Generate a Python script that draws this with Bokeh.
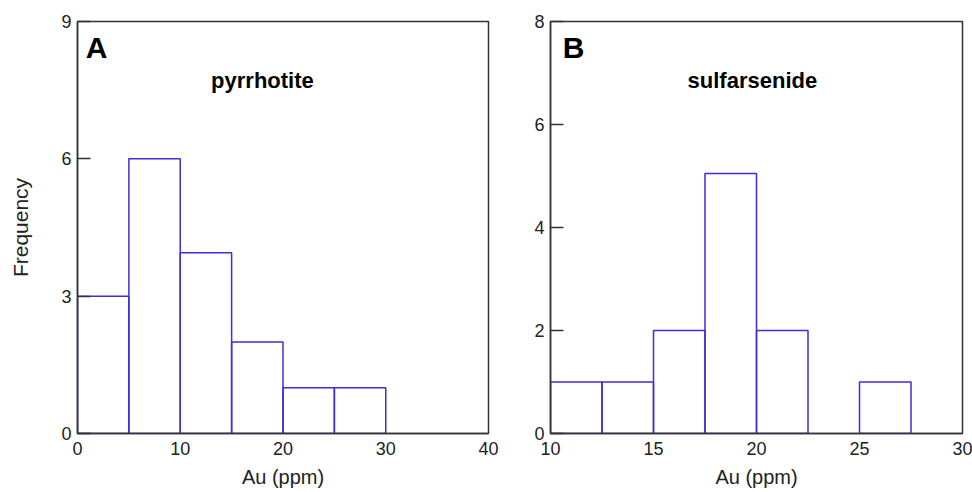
from bokeh.plotting import figure
from bokeh.layouts import row
from bokeh.models import Range1d, FixedTicker, Label, ColumnDataSource
from bokeh.embed import file_html
from bokeh.resources import INLINE

# Panel A: pyrrhotite
a_left = [0, 5, 10, 15, 20, 25, 30, 35]
a_right = [5, 10, 15, 20, 25, 30, 35, 40]
a_count = [3, 6, 3.95, 2, 1, 1, 0, 0]
a_xticks = [0, 10, 20, 30, 40]
a_yticks = [0, 3, 6, 9]

# Panel B: sulfarsenide
b_left = [10, 12.5, 15, 17.5, 20, 22.5, 25, 27.5]
b_right = [12.5, 15, 17.5, 20, 22.5, 25, 27.5, 30]
b_count = [1, 1, 2, 5.05, 2, 0, 1, 0]
b_xticks = [10, 15, 20, 25, 30]
b_yticks = [0, 2, 4, 6, 8]

FONT = "Liberation Sans"
TXT = "#222222"
FRAME = "#333333"
BLUE = "#3c2fd8"


def make_panel(left, right, count, xr, yr, xticks, yticks, letter, name,
               letter_pos, name_pos, ylabel, width, border_left, border_right):
    p = figure(width=width, height=492, output_backend="svg", toolbar_location=None,
               x_range=Range1d(*xr), y_range=Range1d(*yr),
               min_border_left=border_left, min_border_right=border_right,
               min_border_top=21, min_border_bottom=59)
    p.grid.visible = False
    p.outline_line_color = FRAME
    p.outline_line_width = 1.5
    p.background_fill_color = "white"
    p.border_fill_color = "white"

    keep = [i for i, c in enumerate(count) if c > 0]
    src = ColumnDataSource(dict(left=[left[i] for i in keep],
                                right=[right[i] for i in keep],
                                top=[count[i] for i in keep],
                                bottom=[0] * len(keep)))
    p.quad(left="left", right="right", top="top", bottom="bottom", source=src,
           fill_color=None, line_color=BLUE, line_width=1.5)

    for ax in (p.xaxis[0], p.yaxis[0]):
        ax.axis_line_color = FRAME
        ax.axis_line_width = 1.5
        ax.major_tick_line_color = FRAME
        ax.major_tick_line_width = 1.5
        ax.minor_tick_line_color = None
        ax.major_label_text_font = FONT
        ax.major_label_text_font_size = "18px"
        ax.major_label_text_color = TXT
        ax.axis_label_text_font = FONT
        ax.axis_label_text_font_style = "normal"
        ax.axis_label_text_color = TXT

    p.xaxis.ticker = FixedTicker(ticks=xticks)
    p.xaxis.major_tick_in = 0
    p.xaxis.major_tick_out = 0
    p.xaxis.major_label_standoff = 8
    p.xaxis.axis_label = "Au (ppm)"
    p.xaxis.axis_label_text_font_size = "20px"
    p.xaxis.axis_label_standoff = 8

    p.yaxis.ticker = FixedTicker(ticks=yticks)
    p.yaxis.major_tick_in = 13
    p.yaxis.major_tick_out = 0
    p.yaxis.major_label_standoff = 6
    if ylabel:
        p.yaxis.axis_label = ylabel
        p.yaxis.axis_label_text_font_size = "21px"
        p.yaxis.axis_label_standoff = 26

    p.add_layout(Label(x=letter_pos[0], y=letter_pos[1], text=letter,
                       text_font=FONT, text_font_size="30px", text_font_style="bold",
                       text_color="black", text_baseline="top", text_align="left"))
    p.add_layout(Label(x=name_pos[0], y=name_pos[1], text=name,
                       text_font=FONT, text_font_size="22px", text_font_style="bold",
                       text_color="black", text_baseline="middle", text_align="center"))
    return p


pa = make_panel(a_left, a_right, a_count, (0, 40), (0, 9), a_xticks, a_yticks,
                "A", "pyrrhotite", (0.8, 8.8), (18, 7.71), "Frequency",
                500, 77, 12)
pb = make_panel(b_left, b_right, b_count, (10, 30), (0, 8), b_xticks, b_yticks,
                "B", "sulfarsenide", (10.6, 7.82), (19.8, 6.85), None,
                472, 50, 10)

layout = row(pa, pb)
open("out.html", "w").write(file_html(layout, INLINE))
